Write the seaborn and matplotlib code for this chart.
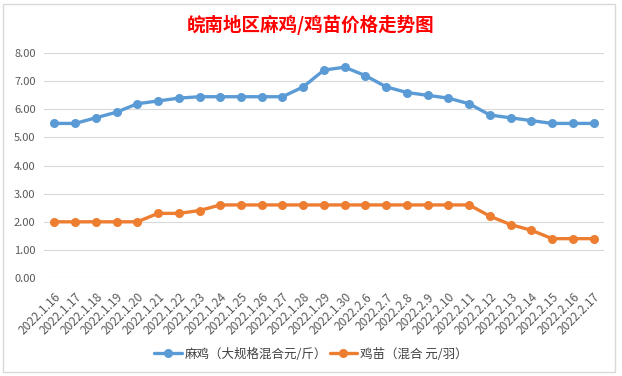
import matplotlib
matplotlib.use("Agg")
import matplotlib.pyplot as plt
import seaborn as sns
import pandas as pd
from matplotlib.patches import Rectangle

# --- data ---
dates = ["2022.1.16", "2022.1.17", "2022.1.18", "2022.1.19", "2022.1.20",
         "2022.1.21", "2022.1.22", "2022.1.23", "2022.1.24", "2022.1.25",
         "2022.1.26", "2022.1.27", "2022.1.28", "2022.1.29", "2022.1.30",
         "2022.2.6", "2022.2.7", "2022.2.8", "2022.2.9", "2022.2.10",
         "2022.2.11", "2022.2.12", "2022.2.13", "2022.2.14", "2022.2.15",
         "2022.2.16", "2022.2.17"]
maji = [5.5, 5.5, 5.7, 5.9, 6.2, 6.3, 6.4, 6.45, 6.45, 6.45, 6.45, 6.45,
        6.8, 7.4, 7.5, 7.2, 6.8, 6.6, 6.5, 6.4, 6.2, 5.8, 5.7, 5.6, 5.5,
        5.5, 5.5]
jimiao = [2.0, 2.0, 2.0, 2.0, 2.0, 2.3, 2.3, 2.4, 2.6, 2.6, 2.6, 2.6, 2.6,
          2.6, 2.6, 2.6, 2.6, 2.6, 2.6, 2.6, 2.6, 2.2, 1.9, 1.7, 1.4, 1.4,
          1.4]
series_names = ["麻鸡（大规格混合元/斤）", "鸡苗（混合 元/羽）"]
colors = ["#5B9BD5", "#ED7D31"]
title = "皖南地区麻鸡/鸡苗价格走势图"

df = pd.concat([
    pd.DataFrame({"date": dates, "price": maji, "series": series_names[0]}),
    pd.DataFrame({"date": dates, "price": jimiao, "series": series_names[1]}),
])

sns.set_theme(style="white")
plt.rcParams["font.family"] = ["Noto Sans CJK SC", "DejaVu Sans"]

fig = plt.figure(figsize=(6.22, 3.76), dpi=100)
ax = fig.add_axes([0.0707, 0.2606, 0.9003, 0.598])

sns.lineplot(data=df, x="date", y="price", hue="series", palette=colors,
             sort=False, marker="o", markersize=6.5, markeredgewidth=0,
             linewidth=2.4, ax=ax)

# chart border
fig.patches.append(Rectangle((3 / 622, 4 / 376), 612 / 622, 368 / 376,
                             transform=fig.transFigure, fill=False,
                             edgecolor="#D9D9D9", linewidth=1))

ax.set_xlim(-0.5, len(dates) - 0.5)
ax.set_ylim(0, 8)
ax.set_yticks(range(0, 9))
ax.set_yticklabels([f"{v:.2f}" for v in range(0, 9)])
ax.grid(axis="y", color="#D9D9D9", linewidth=0.8)
ax.grid(axis="x", visible=False)
for s in ax.spines.values():
    s.set_visible(False)
ax.tick_params(axis="both", length=0, colors="#595959")
ax.tick_params(axis="y", pad=6, labelsize=8)
ax.tick_params(axis="x", pad=9, labelsize=8.6)
plt.setp(ax.get_xticklabels(), rotation=45, ha="right",
         rotation_mode="anchor")
ax.set_xlabel("")
ax.set_ylabel("")

fig.text(0.5, 1 - 25 / 376, title, color="red", fontsize=13.3,
         fontweight="bold", ha="center", va="center")

ax.legend(loc="center", bbox_to_anchor=(0.5, 1 - 354 / 376),
          bbox_transform=fig.transFigure, ncol=2, frameon=False,
          fontsize=9, handlelength=2.2, handletextpad=0.25,
          columnspacing=0.2, labelcolor="#404040")

fig.savefig("out.png", dpi=100)
